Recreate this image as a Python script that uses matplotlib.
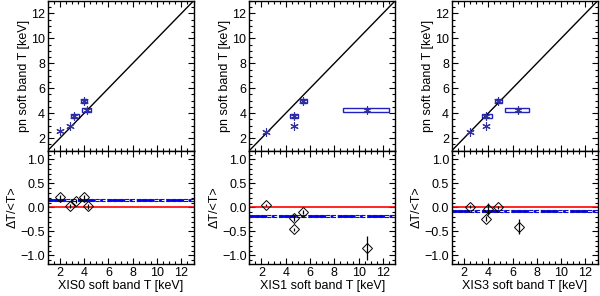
import numpy as np
import matplotlib
matplotlib.use("Agg")
import matplotlib.pyplot as plt
from matplotlib.patches import Rectangle

plt.rcParams['font.family'] = ['Liberation Sans', 'DejaVu Sans']
plt.rcParams['font.size'] = 9

detectors = ["XIS0", "XIS1", "XIS3"]

# XIS temperature (x), xerr low/high, pn temperature (y), yerr
xis_T = [
    [2.05, 2.82, 3.2, 3.95, 4.25],
    [2.4, 4.64, 4.64, 5.41, 10.66],
    [2.48, 3.81, 3.81, 4.82, 6.47],
]
xis_lo = [
    [2.05, 2.82, 2.93, 3.72, 3.85],
    [2.4, 4.64, 4.32, 5.14, 8.72],
    [2.48, 3.81, 3.47, 4.58, 5.4],
]
xis_hi = [
    [2.05, 2.82, 3.57, 4.22, 4.58],
    [2.4, 4.64, 4.98, 5.73, 12.5],
    [2.48, 3.81, 4.34, 5.11, 7.37],
]
pn_T = [
    [2.54, 2.94, 3.75, 4.95, 4.25],
    [2.5, 2.94, 3.75, 4.95, 4.25],
    [2.5, 2.94, 3.75, 4.95, 4.25],
]
pn_err = [0.0, 0.0, 0.15, 0.15, 0.15]

# fractional difference panel
dT_x = [
    [2.05, 2.82, 3.3, 4.0, 4.3],
    [2.4, 4.64, 4.64, 5.41, 10.7],
    [2.48, 3.81, 3.95, 4.82, 6.5],
]
dT = [
    [0.21, 0.03, 0.14, 0.21, 0.02],
    [0.05, -0.22, -0.46, -0.10, -0.84],
    [0.01, -0.24, -0.03, 0.00, -0.40],
]
dT_err = [
    [0.05, 0.04, 0.04, 0.05, 0.05],
    [0.03, 0.06, 0.04, 0.04, 0.25],
    [0.03, 0.05, 0.12, 0.03, 0.15],
]
mean_dT = [0.15, -0.18, -0.07]
mean_err = [0.025, 0.025, 0.025]

lefts = [0.0795, 0.4155, 0.753]
width = 0.243

fig = plt.figure(figsize=(6.0, 2.96), dpi=100)

def style(ax):
    ax.tick_params(direction='in', top=True, right=True, which='both', length=4, width=0.8, pad=2)
    ax.tick_params(which='minor', length=2)
    ax.minorticks_on()
    for s in ax.spines.values():
        s.set_linewidth(1.0)

for i, det in enumerate(detectors):
    ax1 = fig.add_axes([lefts[i], 0.491, width, 0.506])
    ax2 = fig.add_axes([lefts[i], 0.108, width, 0.383])

    ax1.plot([1, 13], [1, 13], color='black', lw=1.0)
    for x, lo, hi, y, ye in zip(xis_T[i], xis_lo[i], xis_hi[i], pn_T[i], pn_err):
        if hi > lo:
            ax1.add_patch(Rectangle((lo, y - ye), hi - lo, 2 * ye, fill=False,
                                    edgecolor='#2020c0', lw=1.0))
    ax1.plot(xis_T[i], pn_T[i], linestyle='none', marker=(6, 2, 0), ms=6,
             color='#3030a0', mew=0.8)
    ax1.set_xlim(1, 13)
    ax1.set_ylim(1, 13)
    ax1.set_xticks([2, 4, 6, 8, 10, 12])
    ax1.set_xticklabels([])
    ax1.set_yticks([2, 4, 6, 8, 10, 12])
    ax1.set_ylabel("pn soft band T [keV]", labelpad=1)
    style(ax1)

    ax2.axhline(0.0, color='red', lw=1.2)
    ax2.axhline(mean_dT[i], color='blue', lw=2.0, linestyle='-.')
    ax2.axhline(mean_dT[i] + mean_err[i], color='#1010c0', lw=0.8, linestyle='--')
    ax2.axhline(mean_dT[i] - mean_err[i], color='#1010c0', lw=0.8, linestyle='--')
    ax2.errorbar(dT_x[i], dT[i], yerr=dT_err[i], fmt='D', mfc='none', mec='black',
                 ecolor='black', ms=5, mew=0.7, elinewidth=0.9, capsize=0)
    ax2.set_xlim(1, 13)
    ax2.set_ylim(-1.18, 1.18)
    ax2.set_xticks([2, 4, 6, 8, 10, 12])
    ax2.set_yticks([-1.0, -0.5, 0.0, 0.5, 1.0])
    ax2.set_yticklabels(["\u22121.0", "\u22120.5", "0.0", "0.5", "1.0"])
    ax2.set_xlabel(f"{det} soft band T [keV]", labelpad=1)
    ax2.set_ylabel("\u0394T/<T>", labelpad=1)
    style(ax2)

fig.savefig("out.png", dpi=100)
